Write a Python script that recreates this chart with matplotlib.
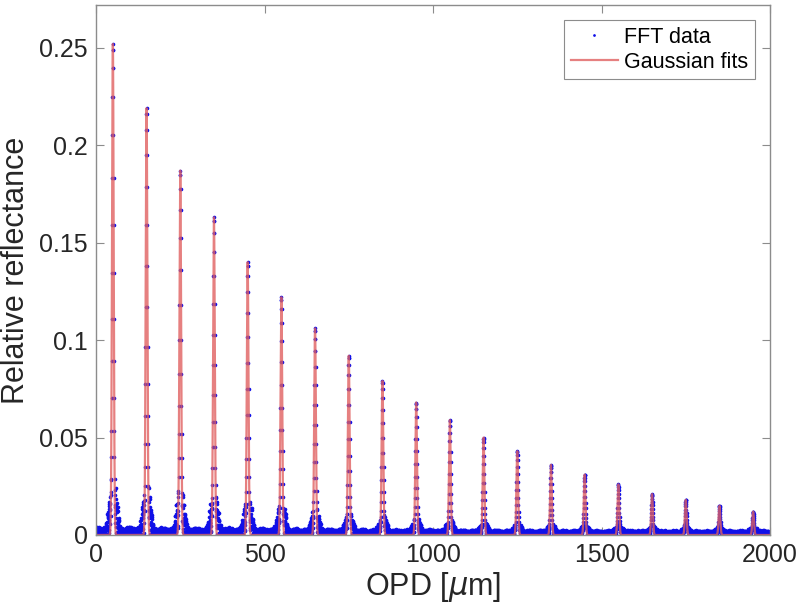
import numpy as np
import matplotlib
import matplotlib.pyplot as plt

matplotlib.use('Agg')
plt.rcParams['font.family'] = ['Liberation Sans', 'DejaVu Sans']

# peak positions [um] and values
centers = [50, 150, 250, 350, 450, 550, 650, 750, 850, 950,
           1050, 1150, 1250, 1350, 1450, 1550, 1650, 1750, 1850, 1950]
heights = [0.252, 0.219, 0.187, 0.163, 0.140, 0.122, 0.106, 0.092, 0.079, 0.068,
           0.059, 0.050, 0.043, 0.036, 0.031, 0.026, 0.021, 0.018, 0.015, 0.012]
# scatter of the FFT points round the base of each peak
pedestal = [0.036, 0.032, 0.030, 0.026, 0.023, 0.019, 0.015, 0.012, 0.010, 0.008,
            0.007, 0.006, 0.005, 0.004, 0.0035, 0.003, 0.0025, 0.0022, 0.002, 0.0018]
side_lobes = [0.013, 0.012, 0.011, 0.010, 0.009, 0.008, 0.006, 0.005, 0.004, 0.0035,
              0.003, 0.0025, 0.0022, 0.002, 0.0018, 0.0016, 0.0014, 0.0013, 0.0012, 0.0012]
floor_level = [0.0045, 0.0042, 0.004, 0.004, 0.0038, 0.0036, 0.0034, 0.0032, 0.003, 0.003,
               0.0029, 0.0028, 0.0027, 0.0027, 0.0026, 0.0026, 0.0025, 0.0025, 0.0025, 0.0025]
fit_sigma = 2.5

x_ticks = [0, 500, 1000, 1500, 2000]
y_ticks = [0, 0.05, 0.1, 0.15, 0.2, 0.25]
y_tick_labels = ['0', '0.05', '0.1', '0.15', '0.2', '0.25']

# FFT sample grid
opd = np.arange(0, 2000, 0.4)
k = np.arange(len(opd))
texture = np.abs(np.sin(1.7 * k)) * (0.55 + 0.45 * np.abs(np.cos(0.37 * k)))

seg = np.clip((opd // 100).astype(int), 0, len(centers) - 1)
envelope = np.array(floor_level)[seg] * (0.75 + 0.25 * np.abs(np.cos(np.pi * opd / 33.0)))
fit = np.zeros_like(opd)
for c, h, p, s in zip(centers, heights, pedestal, side_lobes):
    fit += h * np.exp(-(opd - c) ** 2 / (2 * fit_sigma ** 2))
    envelope += p * np.exp(-(opd - c) ** 2 / (2 * 5.0 ** 2))
    envelope += s * np.exp(-(opd - c - 11) ** 2 / (2 * 4.5 ** 2))
    envelope += s * np.exp(-(opd - c + 11) ** 2 / (2 * 4.5 ** 2))
fft_data = np.maximum(fit, envelope * texture)

opd_fine = np.arange(0, 2000, 0.1)
fit_fine = np.zeros_like(opd_fine)
for c, h in zip(centers, heights):
    fit_fine += h * np.exp(-(opd_fine - c) ** 2 / (2 * fit_sigma ** 2))

fig = plt.figure(figsize=(8.01, 6.10), dpi=100)
ax = fig.add_axes([96 / 801, 75 / 610, 674 / 801, 530 / 610])

ax.plot(opd, fft_data, '.', color='#1010e8', markersize=3.2, label='FFT data')
ax.plot(opd_fine, fit_fine, '-', color='#e06060', linewidth=1.6, alpha=0.8,
        label='Gaussian fits')

ax.set_xlim(0, 2000)
ax.set_ylim(0, 0.272)
ax.set_xticks(x_ticks)
ax.set_yticks(y_ticks)
ax.set_yticklabels(y_tick_labels)
ax.tick_params(direction='in', top=True, right=True, length=6, width=0.8,
               labelsize=18, colors='#8c8c8c', labelcolor='#262626', pad=6)
for sp in ax.spines.values():
    sp.set_color('#8c8c8c')
    sp.set_linewidth(1.0)

ax.set_xlabel('OPD [$\\mu$m]', fontsize=22, color='#262626', labelpad=2)
ax.set_ylabel('Relative reflectance', fontsize=22, color='#262626', labelpad=6)

leg = ax.legend(loc='upper right', fontsize=15.5, fancybox=False, framealpha=1,
                edgecolor='#8c8c8c', handlelength=2.2, borderaxespad=0.7,
                handletextpad=0.3, borderpad=0.3, labelspacing=0.2, markerscale=0.6)
leg.get_frame().set_linewidth(0.8)

fig.savefig('out.png', dpi=100)
plt.close(fig)
